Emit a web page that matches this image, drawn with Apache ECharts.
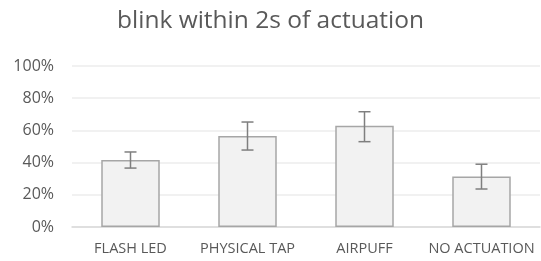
<!DOCTYPE html>
<html>
<head>
<meta charset="utf-8">
<script src="https://cdn.jsdelivr.net/npm/echarts@6/dist/echarts.min.js"></script>
<style>
  html, body { margin: 0; padding: 0; background: #fff; }
  #chart { width: 541px; height: 261px; }
</style>
</head>
<body>
<div id="chart"></div>
<script>
// categories and values (%)
const categories = ["FLASH LED", "PHYSICAL TAP", "AIRPUFF", "NO ACTUATION"];
const blinkRate = [41.6, 56.5, 62.9, 31.4];
const errLow = [36.6, 47.8, 53.0, 23.6];
const errHigh = [46.6, 65.2, 71.6, 39.0];

const chart = echarts.init(document.getElementById("chart"));
const font = "'Open Sans', 'Noto Sans', sans-serif";

chart.setOption({
  animation: false,
  title: {
    text: "blink within 2s of actuation",
    left: "center",
    top: 4,
    textStyle: { color: "#595959", fontSize: 24.5, fontWeight: "normal", fontFamily: font }
  },
  grid: { left: 72, right: 1, top: 66, bottom: 34 },
  xAxis: {
    type: "category",
    data: categories,
    axisTick: { show: false },
    axisLine: { lineStyle: { color: "#d9d9d9", width: 1.5 } },
    axisLabel: { color: "#595959", fontSize: 14.5, margin: 14, interval: 0, hideOverlap: false, fontFamily: font }
  },
  yAxis: {
    type: "value",
    min: 0,
    max: 100,
    interval: 20,
    axisLine: { show: false },
    axisTick: { show: false },
    axisLabel: { color: "#595959", fontSize: 16, margin: 18, formatter: "{value}%", fontFamily: font },
    splitLine: { lineStyle: { color: "#ececec", width: 1.5 } }
  },
  series: [
    {
      type: "bar",
      data: blinkRate,
      barWidth: "50%",
      itemStyle: { color: "#f2f2f2", borderColor: "#a6a6a6", borderWidth: 1.5 }
    },
    {
      type: "custom",
      data: categories.map((c, i) => [i, errLow[i], errHigh[i]]),
      renderItem: function (params, api) {
        const lo = api.coord([api.value(0), api.value(1)]);
        const hi = api.coord([api.value(0), api.value(2)]);
        const w = 6;
        const style = { stroke: "#7f7f7f", lineWidth: 1.5 };
        return {
          type: "group",
          children: [
            { type: "line", shape: { x1: hi[0], y1: hi[1], x2: lo[0], y2: lo[1] }, style: style },
            { type: "line", shape: { x1: hi[0] - w, y1: hi[1], x2: hi[0] + w, y2: hi[1] }, style: style },
            { type: "line", shape: { x1: lo[0] - w, y1: lo[1], x2: lo[0] + w, y2: lo[1] }, style: style }
          ]
        };
      },
      z: 10
    }
  ]
});
</script>
</body>
</html>
